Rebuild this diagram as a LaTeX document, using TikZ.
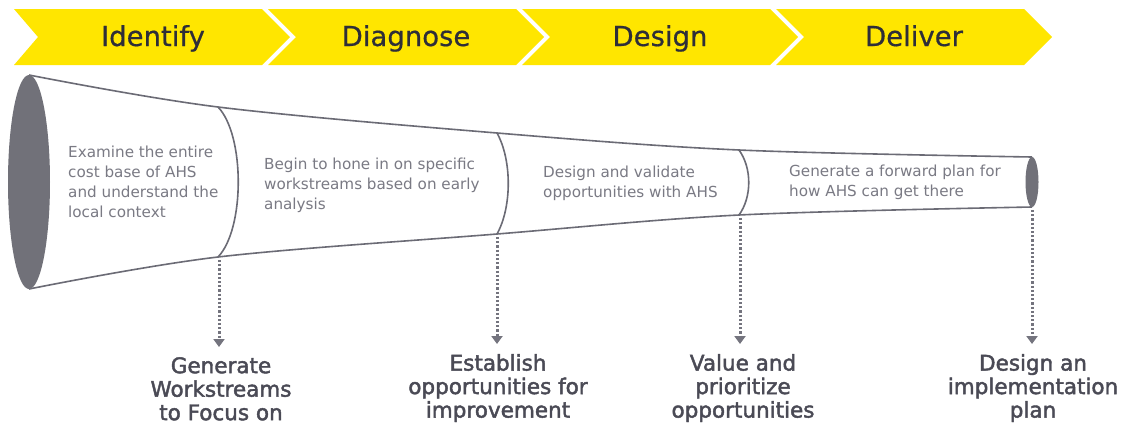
\documentclass[tikz,border=0pt]{standalone}
\usepackage{fontspec}
\setmainfont{DejaVu Sans}
\newfontfamily\labfont[FakeBold=2]{DejaVu Sans}
\newfontfamily\chevfont[FakeBold=0.6]{DejaVu Sans}
\usetikzlibrary{arrows.meta}
\definecolor{eyyellow}{HTML}{FFE600}
\definecolor{eydark}{HTML}{2E2E38}
\definecolor{funnelgray}{HTML}{6B6B75}
\definecolor{fillgray}{HTML}{717179}
\definecolor{textgray}{HTML}{7A7A84}
\definecolor{labgray}{HTML}{4A4A55}
\definecolor{arrowgray}{HTML}{74747E}
\tikzset{
  chevtext/.style={font=\chevfont\fontsize{27.5}{30}\selectfont, text=eydark, anchor=base, inner sep=0},
  funnelline/.style={draw=funnelgray, line width=1.6pt},
  bodytext/.style={font=\fontsize{15.2}{20}\selectfont, text=textgray, align=left, anchor=north west, inner sep=0},
  outtext/.style={font=\labfont\fontsize{21.5}{23.5}\selectfont, text=labgray, align=center, anchor=north, inner sep=0},
  dotarrow/.style={draw=arrowgray, line width=3pt, dash pattern=on 2.2pt off 2pt, -{Triangle[width=11pt,length=8pt]}, shorten >=10pt}
}
\begin{document}
\begin{tikzpicture}[x=1pt,y=-1pt]
\useasboundingbox[fill=white] (0,0) rectangle (1124,424);
% chevrons
\fill[eyyellow] (14,9) -- (262,9) -- (290,37) -- (262,65) -- (14,65) -- (38,37) -- cycle;
\fill[eyyellow] (268,9) -- (516,9) -- (544,37) -- (516,65) -- (268,65) -- (296,37) -- cycle;
\fill[eyyellow] (522,9) -- (770,9) -- (798,37) -- (770,65) -- (522,65) -- (550,37) -- cycle;
\fill[eyyellow] (776,9) -- (1024,9) -- (1052,37) -- (1024,65) -- (776,65) -- (804,37) -- cycle;
\node[chevtext] (c1) at (153,46) {Identify};
\node[chevtext] (c2) at (406,46) {Diagnose};
\node[chevtext] (c3) at (660,46) {Design};
\node[chevtext] (c4) at (914,46) {Deliver};
% funnel outline
\draw[funnelline] plot[smooth, tension=0.55] coordinates {(29,75) (218,107) (497,133) (739,150) (1032,157)};
\draw[funnelline] plot[smooth, tension=0.55] coordinates {(29,289) (218,257) (497,234) (739,215) (1032,207)};
% dividers
\draw[funnelline] (218,107) .. controls (245,135) and (245,229) .. (218,257);
\draw[funnelline] (497,133) .. controls (512,160) and (512,207) .. (497,234);
\draw[funnelline] (739,150) .. controls (752,168) and (752,197) .. (739,215);
% ends
\fill[fillgray] (29,182) ellipse [x radius=21, y radius=107];
\fill[fillgray] (1032,182) ellipse [x radius=6.5, y radius=25];
\coordinate (d1) at (219,260);
\coordinate (d2) at (497,237);
\coordinate (d3) at (740,218);
\coordinate (d4) at (1032,210);
% body texts
\node[bodytext] (t1) at (68,146) {Examine the entire\\cost base of AHS\\and understand the\\local context};
\node[bodytext] (t2) at (264,158) {Begin to hone in on specific\\workstreams based on early\\analysis};
\node[bodytext] (t3) at (543,166) {Design and validate\\opportunities with AHS};
\node[bodytext] (t4) at (789,165) {Generate a forward plan for\\how AHS can get there};
% outcome labels
\node[outtext] (o1) at (221,357) {Generate\\Workstreams\\to Focus on};
\node[outtext] (o2) at (498,354) {Establish\\opportunities for\\improvement};
\node[outtext] (o3) at (743,354) {Value and\\prioritize\\opportunities};
\node[outtext] (o4) at (1033,354) {Design an\\implementation\\plan};
% arrows
\draw[dotarrow] (d1) -- (d1 |- o1.north);
\draw[dotarrow] (d2) -- (d2 |- o2.north);
\draw[dotarrow] (d3) -- (d3 |- o3.north);
\draw[dotarrow] (d4) -- (d4 |- o4.north);
\end{tikzpicture}
\end{document}
